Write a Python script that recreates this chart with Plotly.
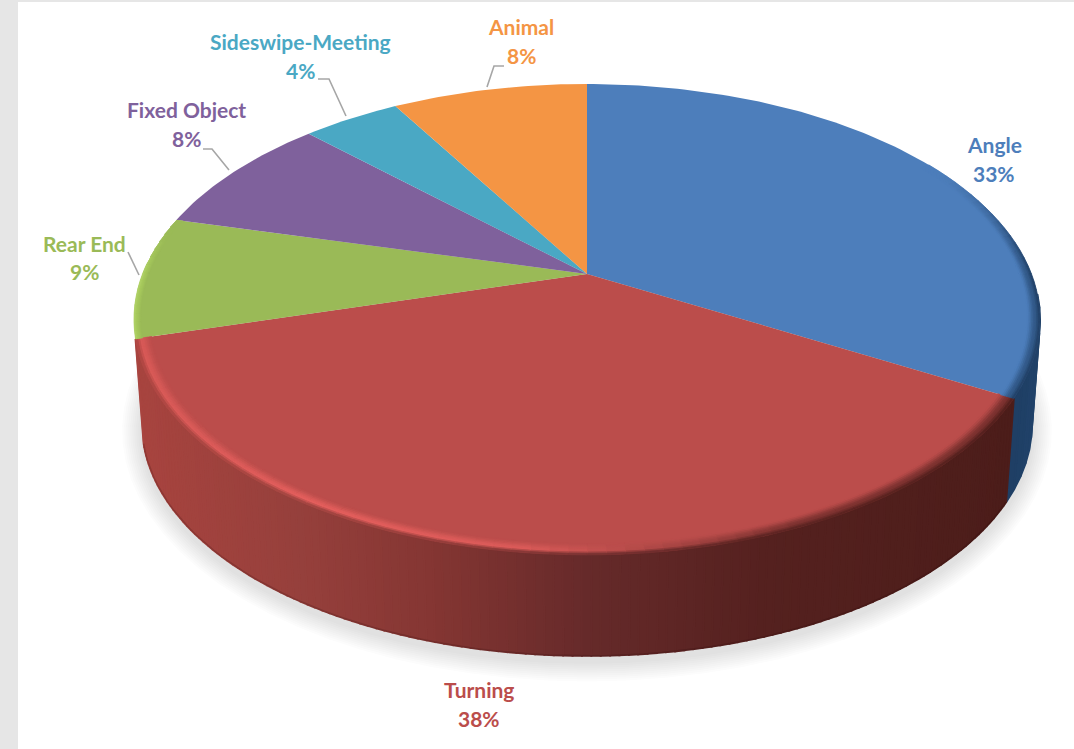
import math
import plotly.graph_objects as go

# ---- data ----
categories = ["Angle", "Turning", "Rear End", "Fixed Object", "Sideswipe-Meeting", "Animal"]
shares = [33.3, 37.4, 8.4, 8.4, 4.2, 8.4]          # slice sizes
percent_labels = ["33%", "38%", "9%", "8%", "4%", "8%"]   # labels as printed
colors = ["#4d7ebb", "#bb4d4b", "#9aba57", "#7f619c", "#4aa8c4", "#f49544"]

# ---- label layout (pixels): x, y of name line, y of percent line ----
label_xy = [(994, 144, 173), (479, 689, 718), (84, 243, 271),
            (186, 109, 138), (300, 41, 70), (521, 26, 55)]
leaders = {
    "Rear End": [(139, 275), (128, 252)],
    "Fixed Object": [(229, 170), (212, 149), (203, 149)],
    "Sideswipe-Meeting": [(346, 116), (329, 79), (318, 79)],
    "Animal": [(487, 87), (494, 66), (504, 66)],
}

# ---- view of the disc: a circle seen in perspective ----
W, H = 1074, 749
CX, CY, B, A, K = 587.0, 274.0, 444.5, 226.7, 0.193
CY_LOW, S_LOW = 380.0, 0.982


def project(theta_deg, r=1.0, low=False):
    t = math.radians(theta_deg)
    X, Y = r * math.sin(t), r * math.cos(t)
    d = 1 + K * Y
    s = S_LOW if low else 1.0
    return CX + s * B * X / d, (CY_LOW if low else CY) - s * A * Y / d


def rgb(c):
    c = c.lstrip("#")
    return tuple(int(c[i:i + 2], 16) for i in (0, 2, 4))


def mix(a, b, t):
    t = max(0.0, min(1.0, t))
    return tuple(a[i] + (b[i] - a[i]) * t for i in range(3))


def css(c):
    return "rgb(%d,%d,%d)" % tuple(round(v) for v in c)


def ramp(stops, x):
    if x <= stops[0][0]:
        return stops[0][1]
    for (x0, c0), (x1, c1) in zip(stops, stops[1:]):
        if x <= x1:
            return mix(c0, c1, (x - x0) / (x1 - x0))
    return stops[-1][1]


def poly(fig, pts, fill, edge=1.0):
    xs = [p[0] for p in pts] + [pts[0][0]]
    ys = [p[1] for p in pts] + [pts[0][1]]
    fig.add_trace(go.Scatter(
        x=xs, y=ys, mode="lines", fill="toself", fillcolor=fill,
        line=dict(color=fill, width=edge) if edge else dict(width=0),
        hoverinfo="skip", showlegend=False))


def frange(a, b, step):
    n = max(1, int(round((b - a) / step)))
    return [a + (b - a) * i / n for i in range(n + 1)]


fig = go.Figure()

# slice limits in degrees, clockwise from the top
total = sum(shares)
bounds = [0.0]
for v in shares:
    bounds.append(bounds[-1] + 360.0 * v / total)

# ---- soft shadow under the disc ----
for grow in range(20, 0, -2):
    pts = []
    for th in frange(0, 360, 4):
        x, y = project(th, 1.0, True)
        pts.append((CX + (x - CX) * (1 + grow / 445.0), 431 + (y - 425) * (1 + grow / 236.0)))
    poly(fig, pts, "rgba(70,70,70,0.017)", edge=0)

# ---- side wall, shaded from left to right ----
red_wall = [(140, rgb("#a8443f")), (300, rgb("#96403c")), (430, rgb("#853633")),
            (587, rgb("#662a2a")), (760, rgb("#55211f")), (1005, rgb("#4c1d1a"))]
blue_wall = [(1000, rgb("#1f3e63")), (1040, rgb("#20436b"))]


def wall(a, b, stops, step):
    ths = frange(a, b, step)
    for t0, t1 in zip(ths, ths[1:]):
        xm = project((t0 + t1) / 2, 1.0, True)[0]
        poly(fig, [project(t0), project(t1), project(t1, 1.0, True), project(t0, 1.0, True)],
             css(ramp(stops, xm)), edge=2)


wall(95.0, bounds[1], blue_wall, 3)
wall(bounds[1], bounds[2], red_wall, 1)

# slightly darker foot of the wall
foot = [project(t, 1.0, True) for t in frange(bounds[1], bounds[2], 2)]
fig.add_trace(go.Scatter(x=[p[0] for p in foot], y=[p[1] for p in foot], mode="lines",
                         line=dict(color="rgba(35,8,8,0.18)", width=1.5),
                         hoverinfo="skip", showlegend=False))

# ---- top faces ----
for i, name in enumerate(categories):
    pts = [(CX, CY)] + [project(t) for t in frange(bounds[i], bounds[i + 1], 1)]
    poly(fig, pts, colors[i], edge=0)


# ---- bevel along the rim ----
def smooth(t):
    t = max(0.0, min(1.0, t))
    return t * t * (3 - 2 * t)


def bevel(a, b, face, target_at, wall_at, inner, strength=lambda th: 1.0, step=2.0, n=8):
    ths = frange(a, b, step)
    radii = [inner + (1 - inner) * j / n for j in range(n + 1)]
    for t0, t1 in zip(ths, ths[1:]):
        thm = (t0 + t1) / 2
        xm = project(thm)[0]
        target, w = target_at(xm), wall_at(xm)
        st = strength(thm)
        for j in range(n):
            u = (j + 0.5) / n
            if u < 0.7:
                col = mix(face, target, smooth(u / 0.7))
            else:
                col = mix(target, w, (u - 0.7) / 0.3)
            col = mix(face, col, st)
            poly(fig, [project(t0, radii[j]), project(t1, radii[j]),
                       project(t1, radii[j + 1]), project(t0, radii[j + 1])], css(col), edge=0.8)


face_red = rgb(colors[1])
highlight = rgb("#e45f5d")
highlight_amount = [(130, 0.75), (300, 1.0), (520, 0.9), (680, 0.35), (800, 0.0), (1100, 0.0)]


def red_target(x):
    h = 0.0
    for (x0, h0), (x1, h1) in zip(highlight_amount, highlight_amount[1:]):
        if x0 <= x <= x1:
            h = h0 + (h1 - h0) * (x - x0) / (x1 - x0)
    return mix(mix(face_red, ramp(red_wall, x), 0.6), highlight, h)


bevel(bounds[1], bounds[2], face_red, red_target, lambda x: ramp(red_wall, x), 0.966)

face_blue = rgb(colors[0])
blue_dark = rgb("#1f3e63")
bevel(58, bounds[1], face_blue, lambda x: mix(face_blue, blue_dark, 0.6),
      lambda x: blue_dark, 0.972, strength=lambda th: smooth((th - 58) / 35))

face_green = rgb(colors[2])
bevel(bounds[2], bounds[3], face_green, lambda x: rgb("#a6c95c"), lambda x: rgb("#b0d266"), 0.985,
      strength=lambda th: 1 - smooth((th - bounds[2] - 14) / 16))

# ---- leader lines ----
for name, pts in leaders.items():
    fig.add_trace(go.Scatter(
        x=[p[0] for p in pts], y=[p[1] for p in pts], mode="lines",
        line=dict(color="#a6a6a6", width=1.6), hoverinfo="skip", showlegend=False))

# ---- labels ----
for i, name in enumerate(categories):
    x, y1, y2 = label_xy[i]
    for txt, y in ((name, y1), (percent_labels[i], y2)):
        fig.add_annotation(
            x=x, y=y, xref="x", yref="y", showarrow=False, align="center",
            text="<b>%s</b>" % txt,
            font=dict(family="Lato", size=21, color=colors[i]))

fig.update_layout(
    width=W, height=H, margin=dict(l=0, r=0, t=0, b=0),
    paper_bgcolor="white", plot_bgcolor="white", showlegend=False,
    xaxis=dict(range=[0, W], visible=False, fixedrange=True),
    yaxis=dict(range=[H, 0], visible=False, fixedrange=True),
    shapes=[
        dict(type="rect", xref="paper", yref="paper", x0=0, x1=18 / W, y0=0, y1=1,
             fillcolor="#e6e6e6", line_width=0, layer="below"),
        dict(type="rect", xref="paper", yref="paper", x0=0, x1=1, y0=1 - 2 / H, y1=1,
             fillcolor="#e6e6e6", line_width=0, layer="below"),
    ],
)

fig.write_html("out.html", config={"displayModeBar": False},
               post_script="document.body.style.margin='0';document.body.style.overflow='hidden';")
